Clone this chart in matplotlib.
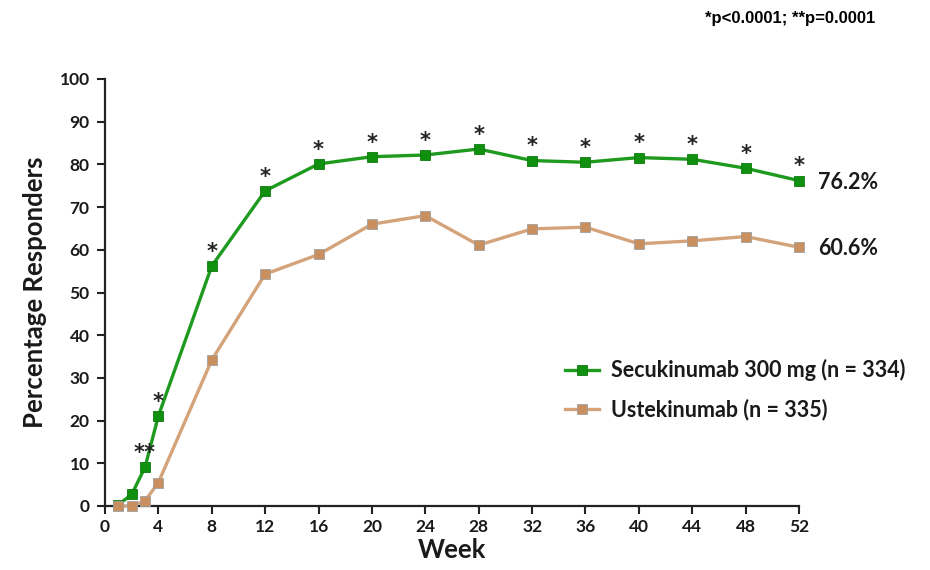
import matplotlib
matplotlib.use("Agg")
import matplotlib.pyplot as plt

weeks = [1, 2, 3, 4, 8, 12, 16, 20, 24, 28, 32, 36, 40, 44, 48, 52]
secukinumab = [0.3, 2.7, 9.1, 21.1, 56.2, 73.8, 80.1, 81.8, 82.2, 83.6, 80.9, 80.5, 81.6, 81.2, 79.1, 76.2]
ustekinumab = [0.0, 0.0, 1.2, 5.5, 34.2, 54.3, 58.9, 66.0, 68.0, 61.1, 64.9, 65.3, 61.4, 62.1, 63.1, 60.6]
signif = ["", "", "**", "*", "*", "*", "*", "*", "*", "*", "*", "*", "*", "*", "*", "*"]
series_labels = ["Secukinumab 300 mg (n = 334)", "Ustekinumab (n = 335)"]
end_labels = ["76.2%", "60.6%"]
xticks = [0, 4, 8, 12, 16, 20, 24, 28, 32, 36, 40, 44, 48, 52]
yticks = list(range(0, 101, 10))
footnote = "*p<0.0001; **p=0.0001"

plt.rcParams['font.family'] = ['Lato', 'DejaVu Sans']
plt.rcParams['font.weight'] = 'bold'

fig = plt.figure(figsize=(9.3, 5.7), dpi=100)
ax = fig.add_axes([105/930, 1-506/570, (799-105)/930, (506-79)/570])

green_line = "#1E9A1E"
green_mk = "#11900F"
tan_line = "#D4A37A"
tan_mk = "#C98F5E"

ax.plot(weeks, secukinumab, color=green_line, lw=2.4, marker='s', ms=7.5,
        mfc=green_mk, mec="#0C7A0C", mew=0.6, label=series_labels[0], zorder=3,
        clip_on=False)
ax.plot(weeks, ustekinumab, color=tan_line, lw=2.4, marker='s', ms=7.5,
        mfc=tan_mk, mec="#A0A0A0", mew=0.6, label=series_labels[1], zorder=4,
        clip_on=False)

for w, v, s in zip(weeks, secukinumab, signif):
    if s:
        ax.annotate(s, (w, v), xytext=(0, 3), textcoords='offset points',
                    ha='center', va='bottom', fontsize=15, fontweight='bold',
                    family=['DejaVu Sans'], color='#222222', annotation_clip=False)

ax.annotate(end_labels[0], (weeks[-1], secukinumab[-1]), xytext=(14, -1),
            textcoords='offset points', ha='left', va='center', fontsize=15.5,
            fontweight='bold', color='#1a1a1a', annotation_clip=False)
ax.annotate(end_labels[1], (weeks[-1], ustekinumab[-1]), xytext=(14, -1),
            textcoords='offset points', ha='left', va='center', fontsize=15.5,
            fontweight='bold', color='#1a1a1a', annotation_clip=False)

ax.set_xlim(0, 52)
ax.set_ylim(0, 100)
ax.set_xticks(xticks)
ax.set_yticks(yticks)
ax.tick_params(axis='both', labelsize=12.5, width=1.5, length=6, color='#222222',
               labelcolor='#1a1a1a')
ax.tick_params(axis='y', pad=5)
for lbl in ax.get_xticklabels() + ax.get_yticklabels():
    lbl.set_fontweight('bold')
for sp in ['top', 'right']:
    ax.spines[sp].set_visible(False)
for sp in ['left', 'bottom']:
    ax.spines[sp].set_linewidth(1.6)
    ax.spines[sp].set_color('#222222')

ax.set_xlabel("Week", fontsize=18.5, fontweight='bold', labelpad=2, color='#1a1a1a')
ax.set_ylabel("Percentage Responders", fontsize=18.5, fontweight='bold', labelpad=9, color='#1a1a1a')

leg = ax.legend(loc='center left', bbox_to_anchor=(460/694, 0.272), frameon=False,
                fontsize=15.5, handlelength=1.6, labelspacing=0.8, handletextpad=0.55,
                borderaxespad=0, borderpad=0)
for t in leg.get_texts():
    t.set_fontweight('bold')
    t.set_color('#1a1a1a')

fig.text(875/930, 1-18/570, footnote, ha='right', va='center', fontsize=12,
         fontweight='bold', family=['Liberation Sans', 'DejaVu Sans'], color='black')

fig.savefig("out.png", dpi=100, facecolor='white')
